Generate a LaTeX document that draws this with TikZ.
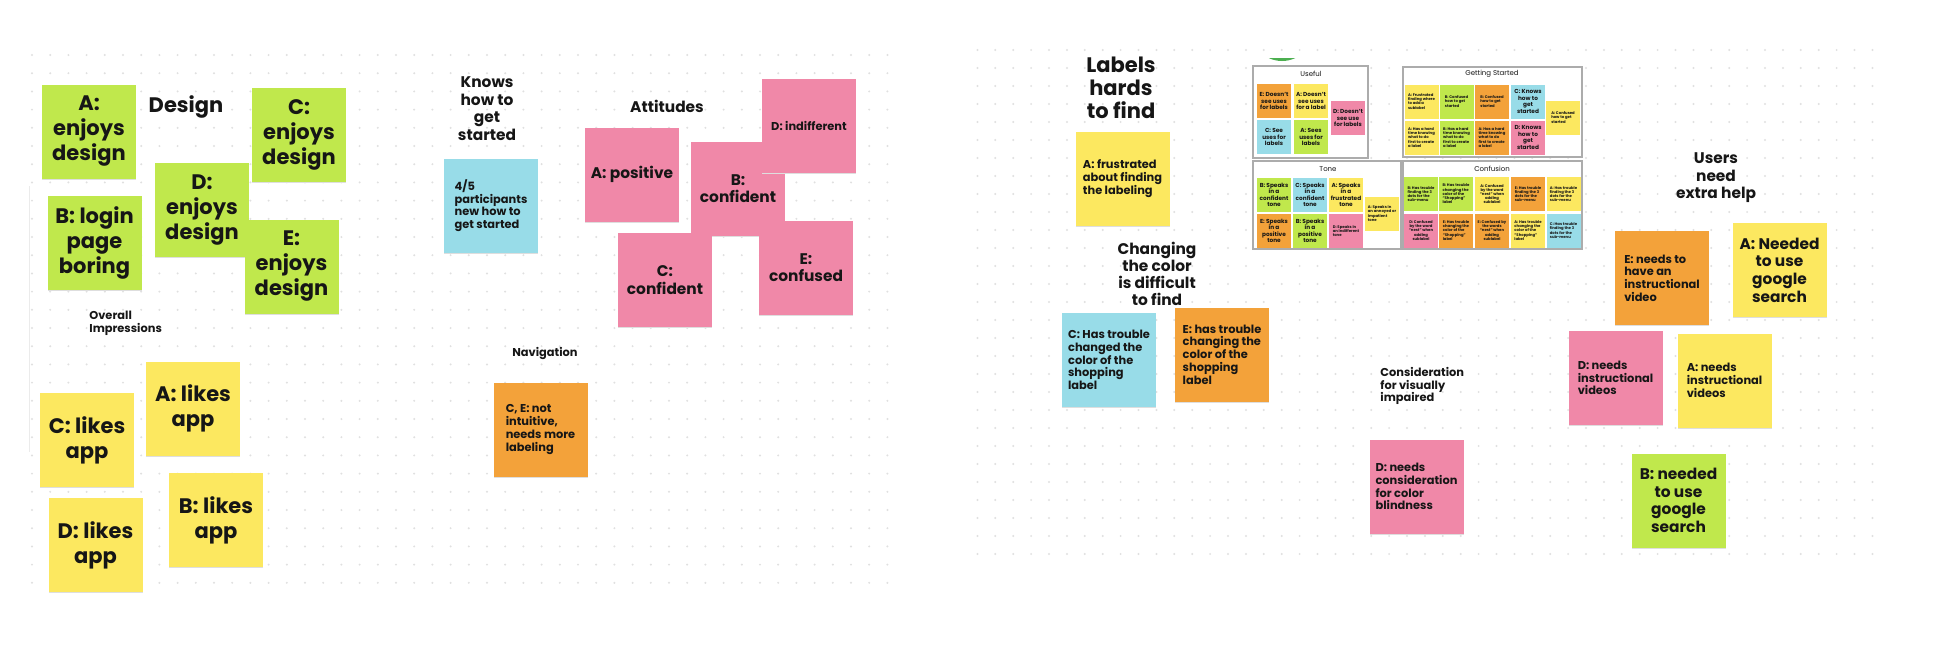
\documentclass[tikz,border=0pt]{standalone}
\usepackage{fontspec}
\setmainfont{Poppins}
\usetikzlibrary{shadows}
\definecolor{sgreen}{RGB}{192,232,76}
\definecolor{syellow}{RGB}{252,232,96}
\definecolor{spink}{RGB}{240,136,168}
\definecolor{sblue}{RGB}{152,220,232}
\definecolor{sorange}{RGB}{243,162,58}
\definecolor{ink}{RGB}{22,22,22}
\definecolor{dotc}{RGB}{224,224,224}
\definecolor{framec}{RGB}{172,172,172}
\definecolor{avatar}{RGB}{76,175,80}
\begin{document}
\begin{tikzpicture}[x=0.5pt,y=-0.5pt,
  note/.style={rectangle, inner sep=0pt, minimum width=47pt, minimum height=47pt,
    align=center, text=ink, general shadow={fill=black!13, shadow yshift=-0.7pt}},
  lnote/.style={note, align=left},
  mini/.style={rectangle, inner sep=0pt, minimum width=17pt, minimum height=17pt,
    align=center, text=ink},
  lmini/.style={mini, align=left},
  bigtxt/.style={font=\bfseries\fontsize{10.5}{12.5}\selectfont},
  medtxt/.style={font=\bfseries\fontsize{7.7}{8.8}\selectfont},
  smtxt/.style={font=\bfseries\fontsize{5.7}{6.35}\selectfont},
  mtxt/.style={font=\bfseries\fontsize{2.9}{3.25}\selectfont},
  ttxt/.style={font=\bfseries\fontsize{1.9}{2.1}\selectfont},
  heading/.style={text=ink, inner sep=0pt, align=center},
  frametitle/.style={text=ink, inner sep=0pt, font=\fontsize{3.5}{4}\selectfont},
  board frame/.style={draw=framec, line width=0.6pt, fill=white},
]
\useasboundingbox (0,0) rectangle (1952,660);
\fill[white] (0,0) rectangle (1952,660);

% dot grids
\foreach \i in {0,...,47}{\foreach \j in {0,...,29}{
  \fill[dotc] ({32+18.2*\i},{55+18.2*\j}) circle (0.55pt);}}
\foreach \i in {0,...,50}{\foreach \j in {0,...,28}{
  \fill[dotc] ({977.4+17.9*\i},{50+18*\j}) circle (0.55pt);}}
\draw[black!8, line width=0.5pt] (29,186) -- (29,452);

% ---------- left board ----------
\node[heading, bigtxt] (design) at (186,107) {Design};
\node[note, bigtxt, fill=sgreen] (gA) at (89,131.5) {A:\\enjoys\\design};
\node[note, bigtxt, fill=sgreen] (gC) at (299,134.5) {C:\\enjoys\\design};
\node[note, bigtxt, fill=sgreen] (gB) at (94.5,242.5) {B: login\\page\\boring};
\node[note, bigtxt, fill=sgreen] (gD) at (202,210) {D:\\enjoys\\design};
\node[note, bigtxt, fill=sgreen] (gE) at (291.5,266.5) {E:\\enjoys\\design};
\node[heading, smtxt, anchor=west, align=left] (overall) at (89,323) {Overall\\Impressions};

\node[note, bigtxt, fill=syellow] (yC) at (87,440) {C: likes\\app};
\node[note, bigtxt, fill=syellow] (yA) at (193,408.5) {A: likes\\app};
\node[note, bigtxt, fill=syellow] (yD) at (95.5,545) {D: likes\\app};
\node[note, bigtxt, fill=syellow] (yB) at (216,520) {B: likes\\app};

\node[heading, medtxt] (knows) at (487,108.5) {Knows\\how to\\get\\started};
\node[lnote, smtxt, fill=sblue] (kn1) at (491,205.5) {4/5\\participants\\new how to\\get started};

\node[heading, medtxt] (attitudes) at (667,106) {Attitudes};
\node[note, medtxt, fill=spink] (pA) at (632,174.5) {A: positive};
\node[note, medtxt, fill=spink] (pB) at (738,188.5) {B:\\confident};
\node[note, smtxt, fill=spink] (pD) at (809,125.5) {D: indifferent};
\node[note, medtxt, fill=spink] (pC) at (665,280) {C:\\confident};
\node[note, medtxt, fill=spink] (pE) at (806,267.5) {E:\\confused};

\node[heading, smtxt] (nav) at (545,353) {Navigation};
\node[lnote, smtxt, fill=sorange] (nav1) at (540.5,429.5) {C, E: not\\intuitive,\\needs more\\labeling};

% ---------- right board ----------
\node[heading, font=\bfseries\fontsize{10.5}{11.5}\selectfont] (labels) at (1121,88) {Labels\\hards\\to find};
\node[lnote, smtxt, fill=syellow] (lab1) at (1122.5,178.5) {A: frustrated\\about finding\\the labeling};
\node[heading, font=\bfseries\fontsize{7.7}{8.5}\selectfont] (changing) at (1157,274) {Changing\\the color\\is difficult\\to find};
\node[lnote, smtxt, fill=sblue] (ch1) at (1109,360) {C: Has trouble\\changed the\\color of the\\shopping\\label};
\node[lnote, smtxt, fill=sorange] (ch2) at (1222,354.5) {E: has trouble\\changing the\\color of the\\shopping\\label};
\node[heading, smtxt, anchor=west, align=left] (consid) at (1380,386) {Consideration\\for visually\\impaired};
\node[lnote, smtxt, fill=spink] (co1) at (1416.5,486.5) {D: needs\\consideration\\for color\\blindness};

\node[heading, medtxt] (users) at (1716,178) {Users\\need\\extra help};
\node[lnote, smtxt, fill=sorange] (u1) at (1662,278) {E: needs to\\have an\\instructional\\video};
\node[note, medtxt, fill=syellow] (u2) at (1779.5,270) {A: Needed\\to use\\google\\search};
\node[lnote, smtxt, fill=spink] (u3) at (1615.5,378) {D: needs\\instructional\\videos};
\node[lnote, smtxt, fill=syellow] (u4) at (1724.5,380.5) {A: needs\\instructional\\videos};
\node[note, medtxt, fill=sgreen] (u5) at (1678.5,500.5) {B: needed\\to use\\google\\search};

% ---------- thumbnail boards ----------
\begin{scope}
  \clip (1250,58.5) rectangle (1320,70);
  \fill[avatar] (1282,30) circle (15.5pt);
\end{scope}
\draw[board frame] (1253,66) rectangle (1368,158);
\draw[board frame] (1403,67) rectangle (1582,157);
\draw[board frame] (1253,161) rectangle (1401,249);
\draw[board frame] (1403,161) rectangle (1582,249);

\node[frametitle] (tUseful) at (1311,74) {Useful};
\node[frametitle] (tGetting) at (1492,74) {Getting Started};
\node[frametitle] (tTone) at (1328,169) {Tone};
\node[frametitle] (tConf) at (1492,169) {Confusion};

% Useful
\node[mini, mtxt, fill=sorange] (us1) at (1274,101) {E: Doesn't\\see uses\\for labels};
\node[mini, mtxt, fill=syellow] (us2) at (1311,101) {A: Doesn't\\see uses\\for a label};
\node[mini, mtxt, fill=spink]   (us3) at (1348,118) {D: Doesn't\\see use\\for labels};
\node[mini, mtxt, fill=sblue]   (us4) at (1274,137) {C: See\\uses for\\labels};
\node[mini, mtxt, fill=sgreen]  (us5) at (1311,137) {A: Sees\\uses for\\labels};

% Getting Started
\node[lmini, ttxt, fill=syellow] (gs1) at (1421.5,101.5) {A: Frustrated\\finding where\\to add a\\sublabel};
\node[lmini, ttxt, fill=sgreen]  (gs2) at (1456.5,101.5) {B: Confused\\how to get\\started};
\node[lmini, ttxt, fill=sorange] (gs3) at (1492,101.5) {B: Confused\\how to get\\started};
\node[mini, mtxt, fill=sblue]    (gs4) at (1528,101.5) {C: Knows\\how to\\get\\started};
\node[lmini, ttxt, fill=syellow] (gs5) at (1421.5,137.5) {A: Has a hard\\time knowing\\what to do\\first to create\\a label};
\node[lmini, ttxt, fill=sgreen]  (gs6) at (1456.5,137.5) {B: Has a hard\\time knowing\\what to do\\first to create\\a label};
\node[lmini, ttxt, fill=sorange] (gs7) at (1492,137.5) {A: Has a hard\\time knowing\\what to do\\first to create\\a label};
\node[mini, mtxt, fill=spink]    (gs8) at (1528,137.5) {D: Knows\\how to\\get\\started};
\node[lmini, ttxt, fill=syellow] (gs9) at (1563,117.5) {A: Confused\\how to get\\started};

% Tone
\node[mini, mtxt, fill=sgreen]  (to1) at (1274,195) {B: Speaks\\in a\\confident\\tone};
\node[mini, mtxt, fill=sblue]   (to2) at (1310,195) {C: Speaks\\in a\\confident\\tone};
\node[mini, mtxt, fill=syellow] (to3) at (1346,195) {A: Speaks\\in a\\frustrated\\tone};
\node[mini, mtxt, fill=sorange] (to4) at (1274,231) {E: Speaks\\in a\\positive\\tone};
\node[mini, mtxt, fill=sgreen]  (to5) at (1310,231) {B: Speaks\\in a\\positive\\tone};
\node[lmini, ttxt, fill=spink]  (to6) at (1346,231) {D: Speaks in\\an indifferent\\tone};
\node[lmini, ttxt, fill=syellow] (to7) at (1382,213.5) {A: Speaks in\\an annoyed or\\impatient\\tone};

% Confusion
\node[lmini, ttxt, fill=sgreen]  (cf1) at (1421,194) {B: Has trouble\\finding the 3\\dots for the\\sub-menu};
\node[lmini, ttxt, fill=sgreen]  (cf2) at (1456,194) {B: Has trouble\\changing the\\color of the\\``Shopping''\\label};
\node[mini, ttxt, fill=syellow]  (cf3) at (1492,194) {A: Confused\\by the word\\``nest'' when\\adding\\sublabel};
\node[lmini, ttxt, fill=sorange] (cf4) at (1528,194) {E: Has trouble\\finding the 3\\dots for the\\sub-menu};
\node[lmini, ttxt, fill=syellow] (cf5) at (1563.5,194) {A: Has trouble\\finding the 3\\dots for the\\sub-menu};
\node[mini, ttxt, fill=spink]    (cf6) at (1421,230.5) {D: Confused\\by the word\\``nest'' when\\adding\\sublabel};
\node[lmini, ttxt, fill=sorange] (cf7) at (1456,230.5) {E: Has trouble\\changing the\\color of the\\``Shopping''\\label};
\node[mini, ttxt, fill=sorange]  (cf8) at (1492,230.5) {E: Confused by\\the words\\``nest'' when\\adding\\sublabel};
\node[lmini, ttxt, fill=syellow] (cf9) at (1528,230.5) {A: Has trouble\\changing the\\color of the\\``Shopping''\\label};
\node[lmini, ttxt, fill=sblue]   (cf10) at (1563.5,230.5) {C: Has trouble\\finding the 3\\dots for the\\sub-menu};
\end{tikzpicture}
\end{document}
